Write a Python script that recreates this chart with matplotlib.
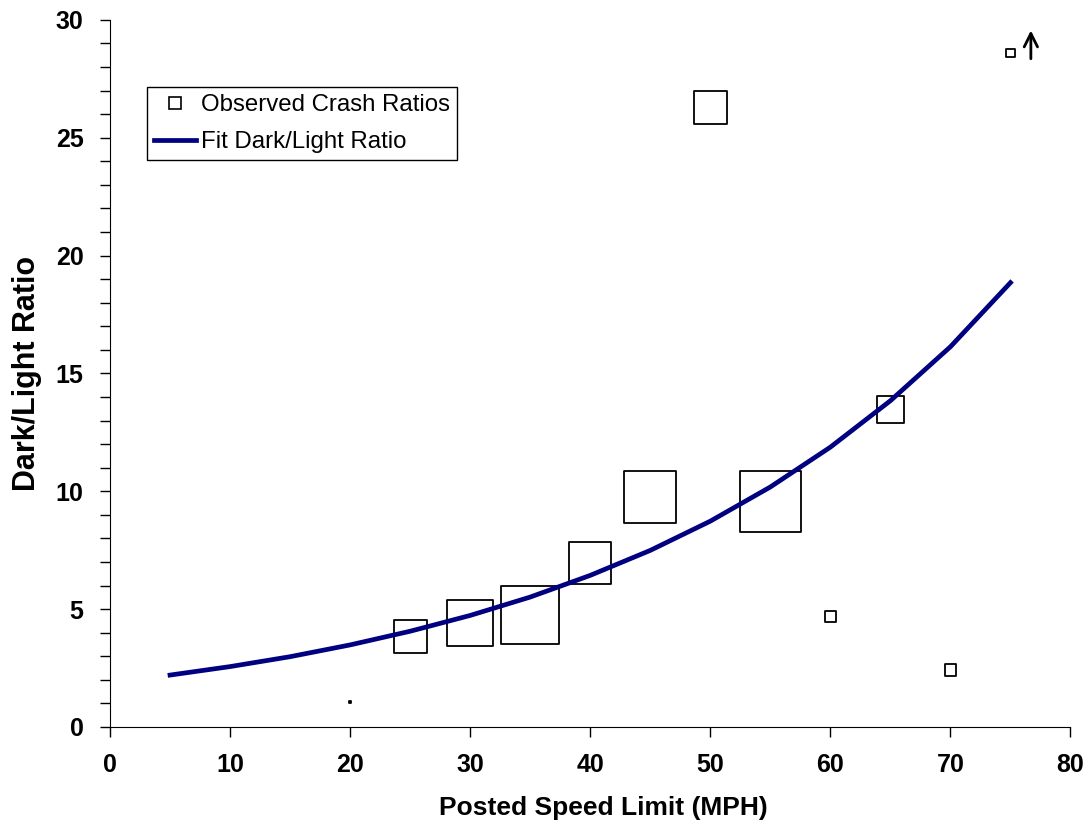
import matplotlib.pyplot as plt
from matplotlib.lines import Line2D
from matplotlib.ticker import MultipleLocator

plt.rcParams['font.family'] = ['Liberation Sans', 'DejaVu Sans']

# observed dark/light crash ratios by posted speed limit
speeds = [20, 25, 30, 35, 40, 45, 50, 55, 60, 65, 70, 75]
ratios = [1.05, 3.83, 4.42, 4.76, 6.96, 9.76, 26.3, 9.56, 4.69, 13.45, 2.43, 28.6]
# relative weight of each observation (drawn as marker width, px)
weights = [2.5, 33, 45.5, 58, 42.5, 52, 33, 61, 11.5, 27, 11.7, 8.5]

# fitted dark/light ratio
fit_speeds = [5, 10, 15, 20, 25, 30, 35, 40, 45, 50, 55, 60, 65, 70, 75]
fit_ratios = [2.2, 2.56, 2.98, 3.48, 4.06, 4.73, 5.51, 6.43, 7.49, 8.73,
              10.18, 11.87, 13.84, 16.13, 18.85]

fig = plt.figure(figsize=(10.89, 8.27), dpi=100)
ax = fig.add_axes([0.101, 0.121, 0.882, 0.855])

sizes = [(w * 0.72) ** 2 for w in weights]
ax.scatter(speeds, ratios, s=sizes, marker='s', facecolors='none',
           edgecolors='black', linewidths=1.3, zorder=2)
ax.plot(fit_speeds, fit_ratios, color='#000080', linewidth=3.4, zorder=3)

# the 75 mph point sits off the top of the scale
ax.annotate('', xy=(76.7, 29.55), xytext=(76.7, 28.35),
            arrowprops=dict(arrowstyle='->', color='black', lw=2,
                            mutation_scale=24, shrinkA=0, shrinkB=0))

ax.set_xlim(0, 80)
ax.set_ylim(0, 30)
ax.xaxis.set_major_locator(MultipleLocator(10))
ax.yaxis.set_major_locator(MultipleLocator(5))
ax.yaxis.set_minor_locator(MultipleLocator(1))
ax.tick_params(axis='both', which='both', direction='out', length=7, width=1)
ax.tick_params(axis='x', pad=12)
ax.tick_params(axis='y', pad=12)
for lbl in ax.get_xticklabels() + ax.get_yticklabels():
    lbl.set_fontsize(18)
    lbl.set_fontweight('bold')

ax.spines['top'].set_visible(False)
ax.spines['right'].set_visible(False)

ax.set_xlabel('Posted Speed Limit (MPH)', fontsize=19, fontweight='bold')
ax.xaxis.set_label_coords(0.5135, -0.097)
ax.set_ylabel('Dark/Light Ratio', fontsize=22, fontweight='bold', labelpad=10)

handles = [
    Line2D([], [], linestyle='none', marker='s', markersize=8,
           markerfacecolor='none', markeredgecolor='black', markeredgewidth=1.2),
    Line2D([], [], color='#000080', linewidth=3.4),
]
ax.legend(handles, ['Observed Crash Ratios', 'Fit Dark/Light Ratio'],
          loc='upper left', bbox_to_anchor=(0.0385, 0.905), fontsize=17.3,
          frameon=True, fancybox=False, edgecolor='black', framealpha=1,
          handlelength=1.75, handletextpad=0.2, borderpad=0.3,
          labelspacing=0.62, borderaxespad=0)

fig.savefig('out.png', dpi=100)
